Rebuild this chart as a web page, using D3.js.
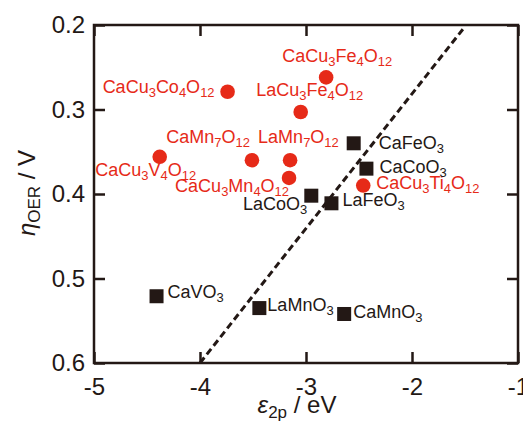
<!DOCTYPE html>
<html>
<head>
<meta charset="utf-8">
<script src="https://cdn.jsdelivr.net/npm/d3@7"></script>
<style>
  body { margin: 0; background: #fff; }
  svg { display: block; font-family: "Liberation Sans", Arial, sans-serif; }
</style>
</head>
<body>
<script>
// ---- data ----
const redNames = ['CaCu{3}Fe{4}O{12}', 'CaCu{3}Co{4}O{12}', 'LaCu{3}Fe{4}O{12}', 'CaMn{7}O{12}',
    'LaMn{7}O{12}', 'CaCu{3}V{4}O{12}', 'CaCu{3}Mn{4}O{12}', 'CaCu{3}Ti{4}O{12}'];
const redX = [-2.81, -3.74, -3.05, -3.51, -3.15, -4.38, -3.16, -2.46];
const redY = [0.262, 0.279, 0.303, 0.360, 0.360, 0.356, 0.381, 0.390];

const blackNames = ['CaFeO{3}', 'CaCoO{3}', 'LaCoO{3}', 'LaFeO{3}', 'CaVO{3}', 'LaMnO{3}', 'CaMnO{3}'];
const blackX = [-2.55, -2.43, -2.95, -2.76, -4.41, -3.44, -2.64];
const blackY = [0.340, 0.370, 0.402, 0.411, 0.521, 0.535, 0.542];

const trendX = [-4.0, -1.52];
const trendY = [0.6, 0.205];

const xTicks = [-5, -4, -3, -2, -1];
const yTicks = [0.2, 0.3, 0.4, 0.5, 0.6];

// label placement relative to marker: [dx, dy, anchor]
const labelPlace = {
    'CaCu{3}Fe{4}O{12}': [11, -11, 'middle'],
    'CaCu{3}Co{4}O{12}': [-13, 5, 'end'],
    'LaCu{3}Fe{4}O{12}': [9, -12, 'middle'],
    'CaMn{7}O{12}': [-2, -13, 'end'],
    'LaMn{7}O{12}': [-32, -13, 'start'],
    'CaCu{3}V{4}O{12}': [-14, 23, 'middle'],
    'CaCu{3}Mn{4}O{12}': [0, 18, 'end'],
    'CaCu{3}Ti{4}O{12}': [13, 7, 'start'],
    'CaFeO{3}': [25, 10, 'start'],
    'CaCoO{3}': [13, 8, 'start'],
    'LaCoO{3}': [-4, 18, 'end'],
    'LaFeO{3}': [11, 7, 'start'],
    'CaVO{3}': [11, 6, 'start'],
    'LaMnO{3}': [8, 7, 'start'],
    'CaMnO{3}': [9, 8, 'start'],
};

const W = 523, H = 426;
const margin = { top: 25, right: 5, bottom: 63, left: 94 };
const width = W - margin.left - margin.right;
const height = H - margin.top - margin.bottom;
const ink = '#231815';
const red = '#e62a18';

const svg = d3.select('body').append('svg')
    .attr('width', W).attr('height', H);
const g = svg.append('g')
    .attr('transform', `translate(${margin.left},${margin.top})`);

const x = d3.scaleLinear().domain([-5, -1]).range([0, width]);
const y = d3.scaleLinear().domain([0.2, 0.6]).range([0, height]);

// writes "CaCu{3}..." as text with subscript tspans
function chem(sel, name, size) {
    const parts = name.split(/(\{[^}]*\})/).filter(p => p.length);
    parts.forEach((p) => {
        if (p[0] === '{') {
            sel.append('tspan').attr('font-size', size * 0.72)
                .attr('dy', size * 0.22).text(p.slice(1, -1));
        } else {
            sel.append('tspan').attr('font-size', size)
                .attr('dy', sel.selectAll('tspan').size() ? -size * 0.22 : 0).text(p);
        }
    });
}

// axes, ticks inward on every side
const tickLen = 11;
g.append('g')
    .attr('transform', `translate(0,${height})`)
    .call(d3.axisBottom(x).tickValues(xTicks).tickSize(-tickLen).tickSizeOuter(0)
        .tickPadding(15).tickFormat(d3.format('d')));
g.append('g')
    .call(d3.axisTop(x).tickValues(xTicks).tickSize(-tickLen).tickSizeOuter(0).tickFormat(''));
g.append('g')
    .call(d3.axisLeft(y).tickValues(yTicks).tickSize(-tickLen).tickSizeOuter(0)
        .tickPadding(9).tickFormat(d3.format('.1f')));
g.append('g')
    .attr('transform', `translate(${width},0)`)
    .call(d3.axisRight(y).tickValues(yTicks).tickSize(-tickLen).tickSizeOuter(0).tickFormat(''));

g.selectAll('.domain').remove();
g.selectAll('.tick line').attr('stroke', ink).attr('stroke-width', 2.5);
g.selectAll('.tick text')
    .attr('fill', ink)
    .attr('font-size', 24)
    .attr('font-family', null)
    .text(function () { return this.textContent.replace('−', '-'); });

g.append('rect')
    .attr('width', width).attr('height', height)
    .attr('fill', 'none').attr('stroke', ink).attr('stroke-width', 2.5);

// dashed trend line
g.append('path')
    .datum(trendX.map((v, i) => [v, trendY[i]]))
    .attr('fill', 'none')
    .attr('stroke', ink)
    .attr('stroke-width', 3)
    .attr('stroke-dasharray', '7,4')
    .attr('d', d3.line().x(d => x(d[0])).y(d => y(d[1])));

// black squares
const sq = 14;
blackNames.forEach((name, i) => {
    g.append('rect')
        .attr('x', x(blackX[i]) - sq / 2).attr('y', y(blackY[i]) - sq / 2)
        .attr('width', sq).attr('height', sq)
        .attr('fill', ink);
});

// red circles
redNames.forEach((name, i) => {
    g.append('circle')
        .attr('cx', x(redX[i])).attr('cy', y(redY[i])).attr('r', 7.3)
        .attr('fill', red);
});

// labels
function addLabel(name, px, py, color) {
    const [dx, dy, anchor] = labelPlace[name];
    const t = g.append('text')
        .attr('x', x(px) + dx).attr('y', y(py) + dy)
        .attr('text-anchor', anchor)
        .attr('fill', color);
    chem(t, name, 18);
}
redNames.forEach((n, i) => addLabel(n, redX[i], redY[i], red));
blackNames.forEach((n, i) => addLabel(n, blackX[i], blackY[i], ink));

// axis titles
const xt = svg.append('text')
    .attr('x', 297).attr('y', 413)
    .attr('text-anchor', 'middle').attr('fill', ink).attr('font-size', 24);
xt.append('tspan').attr('font-style', 'italic').text('ε');
xt.append('tspan').attr('font-size', 17).attr('dy', 5).text('2p');
xt.append('tspan').attr('dy', -5).text(' / eV');

const yt = svg.append('text')
    .attr('transform', 'translate(35,193) rotate(-90)')
    .attr('text-anchor', 'middle').attr('fill', ink).attr('font-size', 24);
yt.append('tspan').attr('font-style', 'italic').text('η');
yt.append('tspan').attr('font-size', 17).attr('dy', 5).text('OER');
yt.append('tspan').attr('dy', -5).text(' / V');
</script>
</body>
</html>
